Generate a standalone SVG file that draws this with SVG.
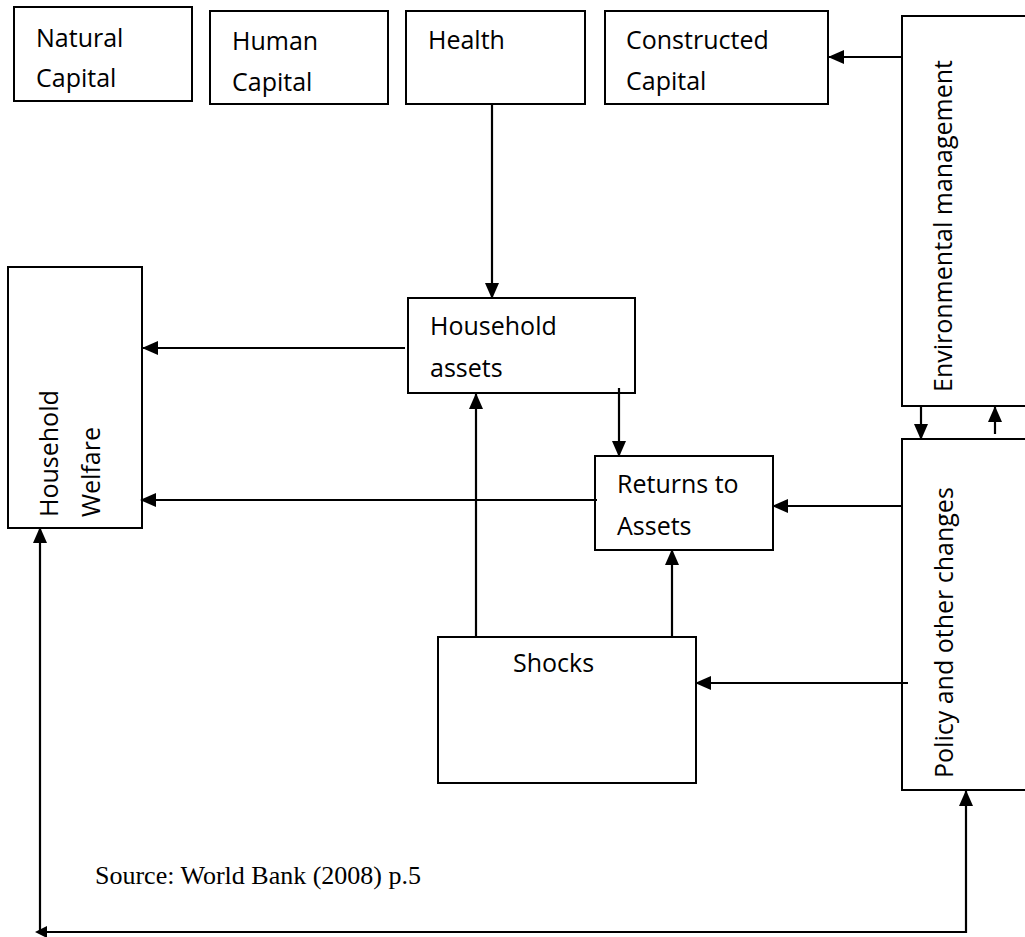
<svg xmlns="http://www.w3.org/2000/svg" width="1025" height="937" viewBox="0 0 1025 937">
<style>
.box{fill:#fff;stroke:#000;stroke-width:2}
.t{font-family:"Open Sans","Noto Sans",sans-serif;font-size:25px;fill:#000}
.src{font-family:"Liberation Serif","Times New Roman",serif;font-size:26px;fill:#000}
.c{fill:none;stroke:#000;stroke-width:2.2}
</style>
<defs>
<marker id="ah" markerUnits="userSpaceOnUse" markerWidth="16" markerHeight="14" refX="15" refY="7" orient="auto">
<path d="M0,0 L16,7 L0,14 z" fill="#000"/>
</marker>
</defs>
<rect width="1025" height="937" fill="#fff"/>
<g id="natural-capital"><rect class="box" x="14" y="7" width="178" height="94"/><text class="t" x="36" y="47">Natural</text><text class="t" x="36" y="87">Capital</text></g>
<g id="human-capital"><rect class="box" x="210" y="11" width="178" height="93"/><text class="t" x="232" y="50">Human</text><text class="t" x="232" y="91">Capital</text></g>
<g id="health"><rect class="box" x="406" y="11" width="179" height="93"/><text class="t" x="428" y="49">Health</text></g>
<g id="constructed-capital"><rect class="box" x="605" y="11" width="223" height="93"/><text class="t" x="626" y="49">Constructed</text><text class="t" x="626" y="90">Capital</text></g>
<g id="environmental-management"><rect class="box" x="902" y="16" width="140" height="390"/><text class="t" transform="translate(952,392) rotate(-90)">Environmental management</text></g>
<g id="policy"><rect class="box" x="902" y="439" width="140" height="351"/><text class="t" transform="translate(953,778) rotate(-90)">Policy and other changes</text></g>
<g id="household-welfare"><rect class="box" x="8" y="267" width="134" height="261"/><text class="t" transform="translate(58,517) rotate(-90)">Household</text><text class="t" transform="translate(100,517) rotate(-90)">Welfare</text></g>
<g id="household-assets"><rect class="box" x="408" y="298" width="227" height="95"/><text class="t" x="430" y="335">Household</text><text class="t" x="430" y="377">assets</text></g>
<g id="returns-to-assets"><rect class="box" x="595" y="456" width="178" height="94"/><text class="t" x="617" y="493">Returns to</text><text class="t" x="617" y="535">Assets</text></g>
<g id="shocks"><rect class="box" x="438" y="637" width="258" height="146"/><text class="t" x="513" y="672">Shocks</text></g>
<g id="connectors">
<line class="c" x1="492" y1="104" x2="492" y2="298" marker-end="url(#ah)"/>
<line class="c" x1="902" y1="57" x2="829" y2="57" marker-end="url(#ah)"/>
<line class="c" x1="405" y1="348" x2="143" y2="348" marker-end="url(#ah)"/>
<line class="c" x1="597" y1="500" x2="141" y2="500" marker-end="url(#ah)"/>
<line class="c" x1="619" y1="388" x2="619" y2="456" marker-end="url(#ah)"/>
<line class="c" x1="476" y1="637" x2="476" y2="394" marker-end="url(#ah)"/>
<line class="c" x1="672" y1="637" x2="672" y2="550" marker-end="url(#ah)"/>
<line class="c" x1="902" y1="506" x2="773" y2="506" marker-end="url(#ah)"/>
<line class="c" x1="908" y1="683" x2="696" y2="683" marker-end="url(#ah)"/>
<line class="c" x1="921" y1="406" x2="921" y2="439" marker-end="url(#ah)"/>
<line class="c" x1="995" y1="434" x2="995" y2="407" marker-end="url(#ah)"/>
<path class="c" d="M40,932 L966,932 L966,791" marker-end="url(#ah)"/>
<line class="c" x1="40" y1="932" x2="40" y2="528" marker-end="url(#ah)"/>
<path d="M35,932 L47,926 L47,938 z" fill="#000"/>
</g>
<text class="src" x="95" y="884">Source: World Bank (2008) p.5</text>
</svg>
